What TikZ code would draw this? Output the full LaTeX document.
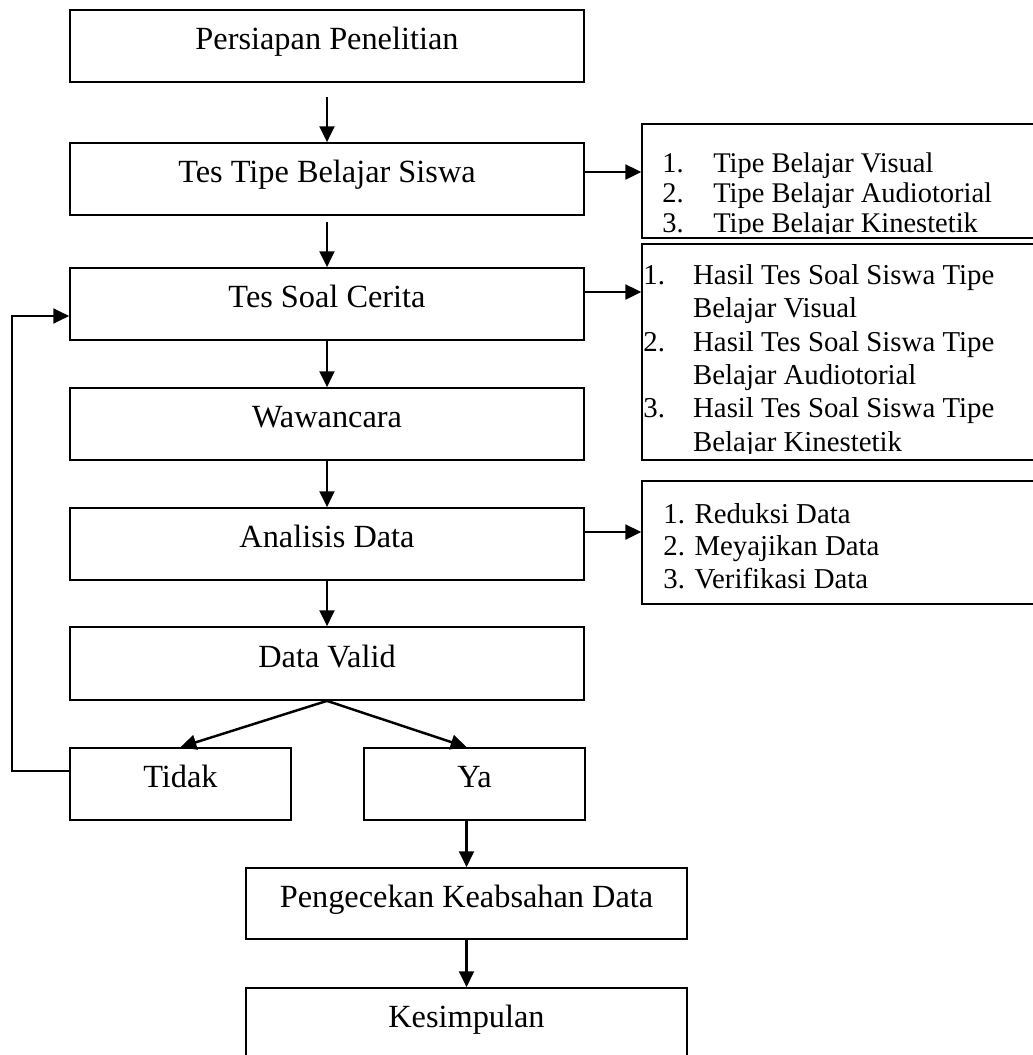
\documentclass[tikz,border=0pt]{standalone}
\usepackage{fontspec}
\setmainfont{Liberation Serif}
\usetikzlibrary{arrows.meta,positioning,calc}

\tikzset{
	box/.style={draw, line width=1pt, minimum width=10.28cm, minimum height=1.44cm,
		font=\fontsize{18.4}{21}\selectfont, text height=12.8pt, text depth=8.8pt},
	list/.style={draw, line width=1pt, minimum width=8.36cm},
	listtext/.style={anchor=north west, inner sep=0pt, align=left},
	arr/.style={-{Triangle[length=9pt,width=8.5pt]}, line width=1.4pt},
}

\begin{document}
\begin{tikzpicture}[x=0.02cm, y=-0.02cm]
				\useasboundingbox (0,0) rectangle (1033,1055);
				\clip (0,0) rectangle (1033,1055);
				
				% Main steps
				\node[box] (persiapan) at (327,46) {Persiapan Penelitian};
				\node[box] (testipe) at (327,179) {Tes Tipe Belajar Siswa};
				\node[box] (soal) at (327,304) {Tes Soal Cerita};
				\node[box] (wawan) at (327,424) {Wawancara};
				\node[box] (analisis) at (327,544) {Analisis Data};
				\node[box, minimum height=1.46cm] (valid) at (327,663.5) {Data Valid};
				
				% Decision
				\node[box, minimum width=4.42cm] (tidak) at (180.5,784) {Tidak};
				\node[box, minimum width=4.42cm] (ya) at (474.5,784) {Ya};
				\node[box, minimum width=8.82cm, minimum height=1.42cm] (cek) at (466.5,903.5) {Pengecekan Keabsahan Data};
				\node[box, minimum width=8.82cm] (simpul) at (466.5,1024) {Kesimpulan};
				
				% Side lists
				\node[list, minimum height=2.28cm] (tipe) at (851,181) {};
				\node[list, minimum height=4.32cm] (hasil) at (851,352) {};
				\node[list, minimum height=2.46cm] (reduksi) at (851,542.5) {};
				
				\begin{scope}
					\clip ([yshift=0.1cm]tipe.south west) rectangle (tipe.north east);
					\node[listtext, font=\fontsize{16.2}{17.1}\selectfont] (tipetxt) at (662,152)
						{\makebox[1.79em][l]{1.}Tipe Belajar Visual\\
						 \makebox[1.79em][l]{2.}Tipe Belajar Audiotorial\\
						 \makebox[1.79em][l]{3.}Tipe Belajar Kinestetik};
				\end{scope}
				\begin{scope}
					\clip ([yshift=0.14cm]hasil.south west) rectangle (hasil.north east);
					\node[listtext, font=\fontsize{16.4}{19}\selectfont] (hasiltxt) at (643,264)
						{\makebox[1.73em][l]{1.}Hasil Tes Soal Siswa Tipe\\
						 \hspace*{1.73em}Belajar Visual\\
						 \makebox[1.73em][l]{2.}Hasil Tes Soal Siswa Tipe\\
						 \hspace*{1.73em}Belajar Audiotorial\\
						 \makebox[1.73em][l]{3.}Hasil Tes Soal Siswa Tipe\\
						 \hspace*{1.73em}Belajar Kinestetik};
				\end{scope}
				\node[listtext, font=\fontsize{16.4}{18.5}\selectfont] (reduksitxt) at (663,503)
					{1. Reduksi Data\\2. Meyajikan Data\\3. Verifikasi Data};
				
				% Arrows down
				\draw[arr, shorten <=0.28cm] (persiapan) -- (testipe);
				\draw[arr, shorten <=0.12cm] (testipe) -- (soal);
				\foreach \a/\b in {soal/wawan, wawan/analisis, analisis/valid}
					\draw[arr] (\a) -- (\b);
				
				% Arrows right
				\draw[arr] (testipe.east) ++(0,-7) coordinate (t1) -- (t1 -| tipe.west);
				\draw[arr] (soal.east) ++(0,-12) coordinate (t2) -- (t2 -| hasil.west);
				\draw[arr] (analisis.east) ++(0,-12) coordinate (t3) -- (t3 -| reduksi.west);
				
				% Valid or not
				\draw[arr] (valid.south) -- (tidak.north);
				\draw[arr] (valid.south) -- (cek.north |- ya.north);
				\draw[arr] (ya.south -| cek.north) -- (cek.north);
				\draw[arr] (cek) -- (simpul);
				
				% Back to the test
				\coordinate (balik) at (12,771);
				\draw[arr, line width=1pt] (tidak.west |- balik) -- (balik) |- ([yshift=-0.24cm]soal.west);
			\end{tikzpicture}
\end{document}
